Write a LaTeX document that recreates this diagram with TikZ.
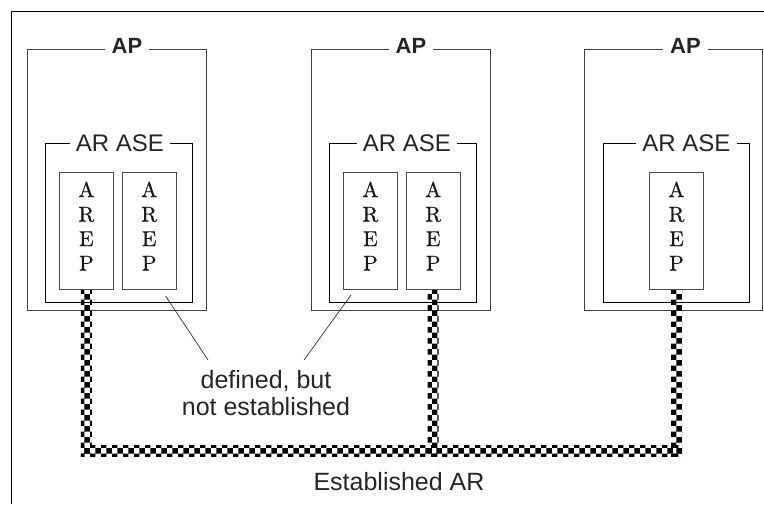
\documentclass[tikz,border=0pt]{standalone}
\usepackage{fontspec}
\setsansfont{Liberation Sans}
\newfontfamily\arepfont{lmroman10-regular.otf}[FakeBold=0.6]
\usetikzlibrary{positioning,patterns}
\tikzset{
	apblock/.style = {
		rectangle,
		draw = black!75,
		line width = 1pt,
		minimum width = 179pt,
		minimum height = 261pt,
		inner sep = 0pt,
	},
	aseblock/.style = {
		rectangle,
		draw = black,
		line width = 1pt,
		minimum width = 147pt,
		minimum height = 159pt,
		inner sep = 0pt,
	},
	arepblock/.style = {
		rectangle,
		draw = black!70,
		line width = 0.8pt,
		minimum width = 54pt,
		minimum height = 117pt,
		inner sep = 0pt,
		label = {[areptext]center:{A\\R\\E\\P}},
	},
	areptext/.style = {
		align = center,
		inner sep = 0pt,
		text = black!90,
		font = \arepfont\fontsize{21.5}{24.5}\selectfont,
		yshift = 5pt,
	},
	aptitle/.style = {
		fill = white,
		inner xsep = 7pt,
		inner ysep = 1pt,
		text = black!85,
		font = \sffamily\bfseries\fontsize{22}{26}\selectfont,
	},
	asetitle/.style = {
		fill = white,
		inner xsep = 6pt,
		inner ysep = 1pt,
		text = black!85,
		font = \sffamily\fontsize{24}{28}\selectfont,
	},
	note/.style = {
		align = center,
		inner sep = 0pt,
		text = black!85,
		font = \sffamily\fontsize{25}{27}\selectfont,
	},
	checker/.style = {pattern = checkerboard},
	leader/.style = {draw = black!80, line width = 0.7pt},
}

\begin{document}
\begin{tikzpicture}[x = 1pt, y = -1pt, node distance = 8pt]
	\useasboundingbox (0,0) rectangle (764,504);
	\draw[line width = 1pt] (11,504) -- (11,11) -- (764,11);

	\node[apblock, anchor = north west](ap1) at (27,49) {};
	\node[apblock, right = 104pt of ap1](ap2) {};
	\node[apblock, right = 93pt of ap2, minimum width = 178pt](ap3) {};

	\node[aseblock, above right = 8pt and 18pt of ap1.south west](ase1) {};
	\node[aseblock, above right = 8pt and 18pt of ap2.south west](ase2) {};
	\node[aseblock, above right = 8pt and 19pt of ap3.south west, minimum width = 146pt](ase3) {};

	\node[arepblock, above right = 13pt and 14pt of ase1.south west](arep1a) {};
	\node[arepblock, right = of arep1a](arep1b) {};
	\node[arepblock, above right = 13pt and 14pt of ase2.south west](arep2a) {};
	\node[arepblock, right = of arep2a](arep2b) {};
	\node[arepblock, above = 13pt of ase3.south](arep3) {};

	\node[aptitle](ap1title) at ([shift={(10,-3)}]ap1.north) {AP};
	\node[aptitle](ap2title) at ([shift={(10,-3)}]ap2.north) {AP};
	\node[aptitle](ap3title) at ([shift={(12,-3)}]ap3.north) {AP};
	\node[asetitle](ase1title) at ([xshift = 1pt]ase1.north) {AR ASE};
	\node[asetitle](ase2title) at ([xshift = 4pt]ase2.north) {AR ASE};
	\node[asetitle](ase3title) at ([xshift = 10pt]ase3.north) {AR ASE};

	\coordinate (bus) at (0,456.5);
	\path (arep1a.south |- bus) coordinate (drop1)
		(arep2b.south |- bus) coordinate (drop2)
		(arep3.south |- bus) coordinate (drop3);
	\fill[checker] ([xshift = -5.5pt]arep1a.south) rectangle ([xshift = 5.5pt]drop1);
	\fill[checker] ([xshift = -5.5pt]arep2b.south) rectangle ([xshift = 5.5pt]drop2);
	\fill[checker] ([xshift = -5.5pt]arep3.south) rectangle ([xshift = 5.5pt]drop3);
	\fill[checker] ([shift={(-5.5,-11)}]drop1) rectangle ([xshift = 5.5pt]drop3);

	\node[note, anchor = north](defined) at (266,370) {defined, but\\not established};
	\draw[leader] ([shift={(-11,6)}]arep1b.south east) -- ([shift={(-58,-10)}]defined.north);
	\draw[leader] ([shift={(8,5)}]arep2a.south west) -- ([shift={(38,-10)}]defined.north);

	\node[note, anchor = base](established) at (399,490) {Established AR};
\end{tikzpicture}
\end{document}
